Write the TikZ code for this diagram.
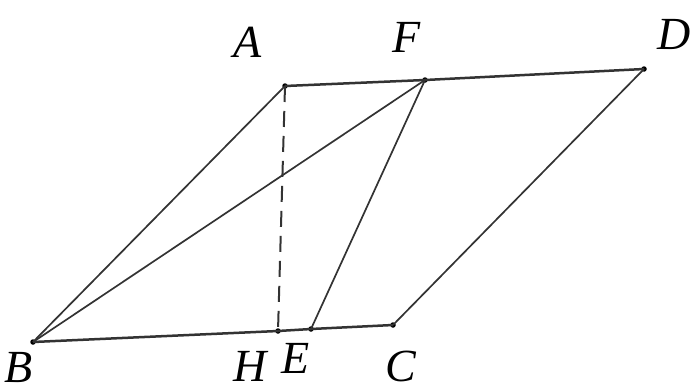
\documentclass[tikz,border=0pt]{standalone}
\usepackage{fontspec}
\setmainfont{Liberation Serif}
\begin{document}
\begin{tikzpicture}[x=1pt,y=-1pt,
  seg/.style={line width=1.7pt,draw=black!80},
  thick seg/.style={line width=2.5pt,draw=black!80},
  pt/.style={circle,fill=black,inner sep=0pt,minimum size=5.5pt},
  lab/.style={font=\fontsize{46}{48}\selectfont\itshape,inner sep=0pt}]
\useasboundingbox (0,0) rectangle (695,391);
\node[pt] (A) at (285,86) {};
\node[pt] (F) at (425,80) {};
\node[pt] (D) at (644,69) {};
\node[pt] (B) at (33,342) {};
\node[pt] (H) at (278,331) {};
\node[pt] (E) at (311,329) {};
\node[pt] (C) at (393,325) {};
\draw[thick seg] (A.center) -- (F.center) -- (D.center);
\draw[thick seg] (B.center) -- (H.center) -- (E.center) -- (C.center);
\draw[seg] (B.center) -- (A.center);
\draw[seg] (B.center) -- (F.center);
\draw[seg] (F.center) -- (E.center);
\draw[seg] (C.center) -- (D.center);
\draw[seg,line width=2pt,dash pattern=on 16pt off 9pt] (A.center) -- (H.center);
\node[lab] (lA) at (248,42) {A};
\node[lab] (lF) at (407,37) {F};
\node[lab] (lD) at (674,34) {D};
\node[lab] (lB) at (19,367) {B};
\node[lab] (lH) at (250,366) {H};
\node[lab] (lE) at (296,358) {E};
\node[lab] (lC) at (401,366) {C};
\end{tikzpicture}
\end{document}
